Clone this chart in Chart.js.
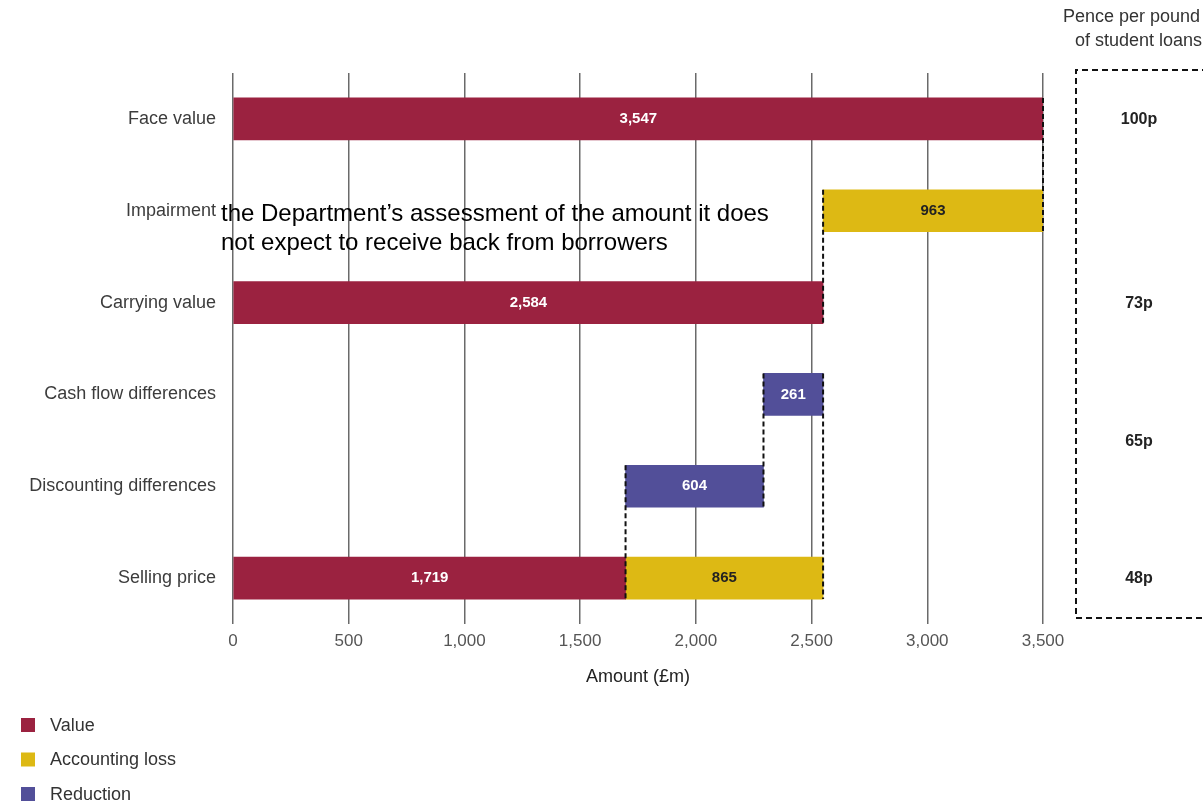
<!DOCTYPE html>
<html>
<head>
<meta charset="utf-8">
<script src="https://cdn.jsdelivr.net/npm/chart.js@4.4.1/dist/chart.umd.min.js"></script>
<style>
  html, body { margin: 0; padding: 0; background: #fff; }
  #wrap { width: 1203px; height: 804px; position: relative; }
</style>
</head>
<body>
<div id="wrap"><canvas id="waterfallChart" width="1203" height="804"></canvas></div>
<script>
// data (£m)
const categories = ['Face value', 'Impairment', 'Carrying value', 'Cash flow differences', 'Discounting differences', 'Selling price'];
const valueAmounts = [3547, null, 2584, null, null, 1719];
const lossAmounts = [null, 963, null, null, null, 865];
const reductionAmounts = [null, null, null, 261, 604, null];
const barStarts = [0, 2584, 0, 2323, 1719, 1719]; // where the loss / reduction bars begin
const tickLabels = ['0', '500', '1,000', '1,500', '2,000', '2,500', '3,000', '3,500'];
const penceLabels = ['100p', '73p', '65p', '48p'];
const penceRows = [0, 2, 3.5, 5];
const legendLabels = ['Value', 'Accounting loss', 'Reduction'];
// dashed joins: [amount, from row, to row]
const connectors = [[3547, 0, 1], [2584, 1, 2], [2584, 3, 5], [2323, 3, 4], [1719, 4, 5]];

const colours = ['#9b2240', '#ddb914', '#524f99'];
const labelColours = ['#ffffff', '#222222', '#ffffff'];
const amountLists = [valueAmounts, lossAmounts, reductionAmounts];
const FONT = '"Liberation Sans", Arial, sans-serif';

const toRange = (list, fromZero) => list.map((v, i) => v == null ? null : (fromZero ? [0, v] : [barStarts[i], barStarts[i] + v]));

const decorPlugin = {
    id: 'decor',
    afterDatasetsDraw(chart) {
        const { ctx, chartArea, scales: { x, y } } = chart;
        const half = chart.getDatasetMeta(0).data[0].height / 2;
        ctx.save();

        // dashed joins between bars
        ctx.strokeStyle = '#111';
        ctx.lineWidth = 2;
        ctx.setLineDash([5, 3]);
        connectors.forEach(([amount, from, to]) => {
            const px = x.getPixelForValue(amount);
            ctx.beginPath();
            ctx.moveTo(px, y.getPixelForValue(from) - half);
            ctx.lineTo(px, y.getPixelForValue(to) + half);
            ctx.stroke();
        });

        // numbers inside bars
        ctx.setLineDash([]);
        ctx.font = 'bold 15px ' + FONT;
        ctx.textAlign = 'center';
        ctx.textBaseline = 'middle';
        amountLists.forEach((list, di) => {
            chart.getDatasetMeta(di).data.forEach((bar, i) => {
                if (list[i] == null) return;
                ctx.fillStyle = labelColours[di];
                ctx.fillText(list[i].toLocaleString('en-GB'), (bar.x + bar.base) / 2, bar.y);
            });
        });

        // pence per pound box
        const boxLeft = chartArea.right + 33;
        ctx.strokeStyle = '#111';
        ctx.lineWidth = 2;
        ctx.setLineDash([6, 4]);
        ctx.beginPath();
        ctx.moveTo(chart.width + 5, chartArea.top - 3);
        ctx.lineTo(boxLeft, chartArea.top - 3);
        ctx.lineTo(boxLeft, chartArea.bottom - 6);
        ctx.lineTo(chart.width + 5, chartArea.bottom - 6);
        ctx.stroke();
        ctx.setLineDash([]);

        ctx.fillStyle = '#222';
        ctx.font = 'bold 16px ' + FONT;
        penceLabels.forEach((txt, i) => {
            ctx.fillText(txt, boxLeft + 63, y.getPixelForValue(penceRows[i]) + 1);
        });

        ctx.fillStyle = '#333';
        ctx.font = '18px ' + FONT;
        ctx.textAlign = 'left';
        ctx.fillText('Pence per pound', boxLeft - 13, 17);
        ctx.fillText('of student loans', boxLeft - 1, 41);

        // annotation over the impairment row
        ctx.fillStyle = '#000';
        ctx.font = '24px ' + FONT;
        ctx.fillText('the Department\u2019s assessment of the amount it does', 221, 214);
        ctx.fillText('not expect to receive back from borrowers', 221, 243);

        // legend
        ctx.font = '18px ' + FONT;
        legendLabels.forEach((txt, i) => {
            const cy = 725 + i * 34.5;
            ctx.fillStyle = colours[i];
            ctx.fillRect(21, cy - 7, 14, 14);
            ctx.fillStyle = '#333';
            ctx.fillText(txt, 50, cy + 1);
        });
        ctx.restore();
    }
};

new Chart(document.getElementById('waterfallChart'), {
    type: 'bar',
    data: {
        labels: categories,
        datasets: [
            { label: legendLabels[0], data: toRange(valueAmounts, true), backgroundColor: colours[0] },
            { label: legendLabels[1], data: toRange(lossAmounts, false), backgroundColor: colours[1] },
            { label: legendLabels[2], data: toRange(reductionAmounts, false), backgroundColor: colours[2] }
        ]
    },
    options: {
        indexAxis: 'y',
        responsive: false,
        animation: false,
        devicePixelRatio: 1,
        layout: { padding: { top: 73, right: 160, bottom: 116, left: 0 } },
        datasets: { bar: { grouped: false, barThickness: 42, borderWidth: 0 } },
        plugins: { legend: { display: false }, tooltip: { enabled: false } },
        scales: {
            x: {
                min: 0,
                max: valueAmounts[0],
                afterBuildTicks: (scale) => {
                    // gridlines split the axis into equal steps, as in the original
                    scale.ticks = tickLabels.map((_, i) => ({ value: scale.max * i / (tickLabels.length - 1) }));
                },
                ticks: {
                    callback: (value, index) => tickLabels[index],
                    color: '#555',
                    font: { family: FONT, size: 17 },
                    padding: 7,
                    maxRotation: 0
                },
                grid: { color: '#6a6a6a', lineWidth: 1.5, drawTicks: false },
                border: { display: false },
                title: {
                    display: true,
                    text: 'Amount (£m)',
                    color: '#222',
                    font: { family: FONT, size: 18 },
                    padding: { top: 8, bottom: 0 }
                }
            },
            y: {
                afterFit: (scale) => { scale.width = 233; },
                ticks: { color: '#3c3c3c', font: { family: FONT, size: 18 }, padding: 17 },
                grid: { display: false, drawTicks: false },
                border: { display: false }
            }
        }
    },
    plugins: [decorPlugin]
});
</script>
</body>
</html>
